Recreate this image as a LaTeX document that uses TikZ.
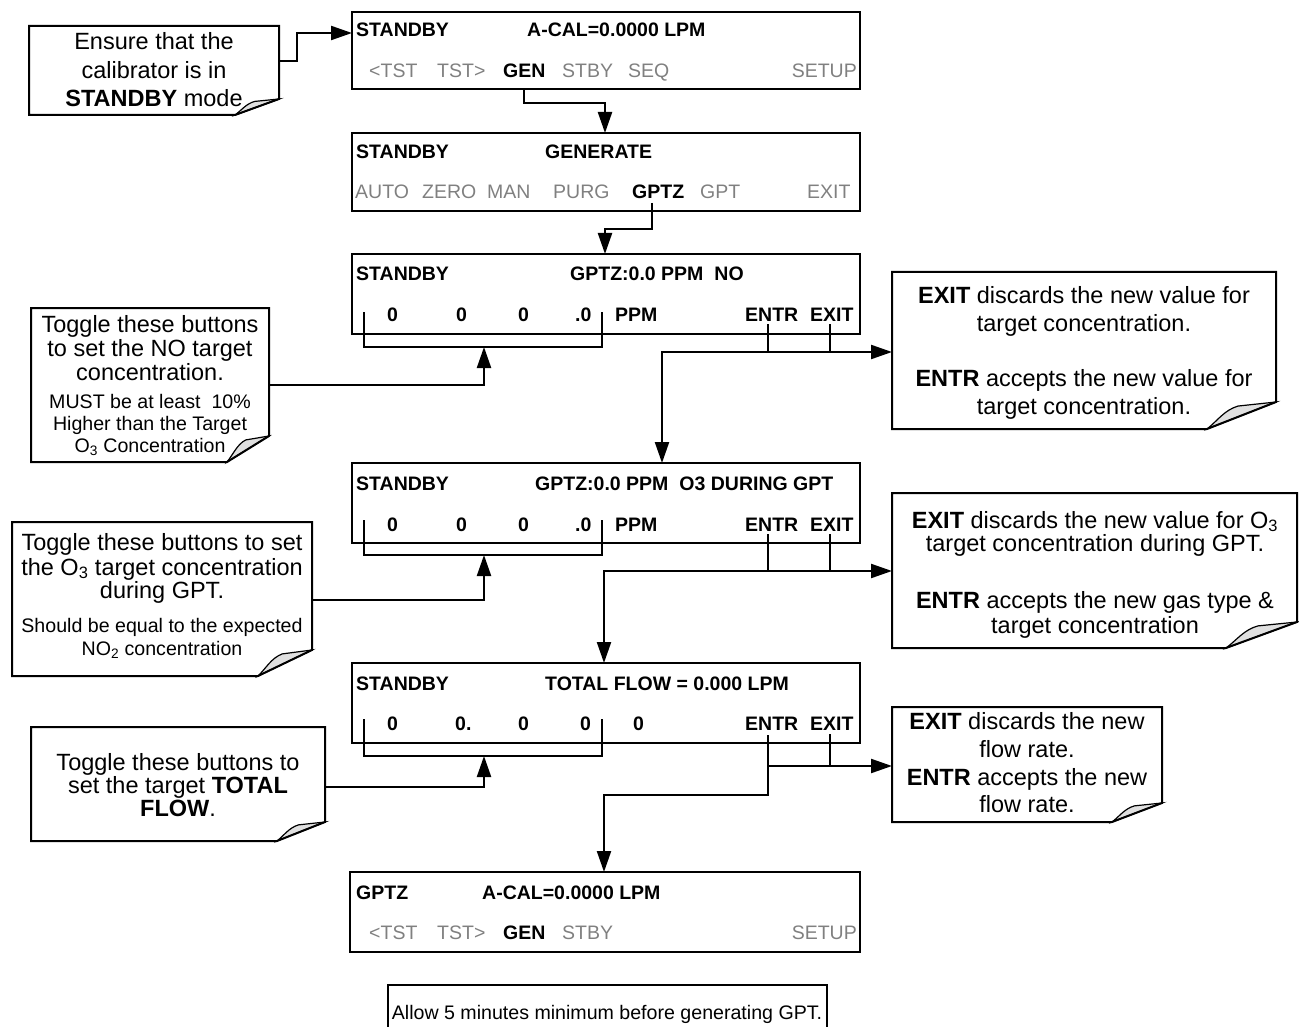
\documentclass[tikz,border=0pt]{standalone}
\usepackage{fontspec}
\setmainfont{Liberation Sans}
\usetikzlibrary{arrows.meta}
\definecolor{menugray}{RGB}{128,128,128}
\definecolor{flapgray}{RGB}{224,224,224}
\tikzset{
  display/.style={draw, line width=2.4pt, inner sep=0pt, outer sep=0pt},
  dtxt/.style={anchor=base west, inner sep=0pt, font=\fontsize{19.5}{22}\selectfont\bfseries},
  mtxt/.style={anchor=base west, inner sep=0pt, font=\fontsize{19.5}{22}\selectfont, text=menugray},
  ntxt/.style={anchor=base, inner sep=0pt, font=\fontsize{23.5}{26}\selectfont},
  stxt/.style={anchor=base, inner sep=0pt, font=\fontsize{19.6}{22}\selectfont},
  conn/.style={line width=2.2pt, line cap=rect},
  arr/.style={line width=2.2pt, -{Triangle[length=21pt,width=14pt]}},
  outline/.style={line width=2pt, line join=miter},
  flap/.style={line width=1.2pt, fill=flapgray},
}
\newcommand\fnote[7]{%
  \pgfmathsetmacro\fnW{#4-#2}\pgfmathsetmacro\fnH{#5-#3}%
  \node[inner sep=0pt, outer sep=0pt, minimum width=\fnW pt, minimum height=\fnH pt] (#1) at ({(#2+#4)/2},{(#3+#5)/2}) {};
  \filldraw[flap] (#4,{#5-#7}) -- ({#4-0.55*#6},{#5-0.85*#7}) .. controls ({#4-0.75*#6},{#5-0.7*#7}) and ({#4-0.85*#6},{#5-0.3*#7}) .. ({#4-#6},#5) -- cycle;
  \draw[outline] (#2,#3) -- (#4,#3) -- (#4,{#5-#7}) -- ({#4-#6},#5) -- (#2,#5) -- cycle;
}
\begin{document}
\begin{tikzpicture}[x=1pt,y=-1pt]
\useasboundingbox (0,0) rectangle (1299,1027);

% ---------- displays ----------
\node[display, minimum width=508pt, minimum height=77pt] (d1) at (606,50.5) {};
\node[display, minimum width=508pt, minimum height=78pt] (d2) at (606,172) {};
\node[display, minimum width=508pt, minimum height=80pt] (d3) at (606,294) {};
\node[display, minimum width=508pt, minimum height=80pt] (d4) at (606,503) {};
\node[display, minimum width=508pt, minimum height=80pt] (d5) at (606,703) {};
\node[display, minimum width=510pt, minimum height=80pt] (d6) at (605,912) {};

% D1
\node[dtxt] (d1a) at (356,37) {STANDBY};
\node[dtxt] (d1b) at (527,37) {A-CAL=0.0000 LPM};
\node[mtxt] (d1c) at (369,78) {<TST};
\node[mtxt] (d1d) at (437,78) {TST>};
\node[dtxt] (d1e) at (503,78) {GEN};
\node[mtxt] (d1f) at (562,78) {STBY};
\node[mtxt] (d1g) at (628,78) {SEQ};
\node[mtxt, anchor=base east] (d1h) at (857,78) {SETUP};
% D2
\node[dtxt] (d2a) at (356,159) {STANDBY};
\node[dtxt] (d2b) at (545,159) {GENERATE};
\node[mtxt] (d2c) at (355,199) {AUTO};
\node[mtxt] (d2d) at (422,199) {ZERO};
\node[mtxt] (d2e) at (487,199) {MAN};
\node[mtxt] (d2f) at (553,199) {PURG};
\node[dtxt] (d2g) at (632,199) {GPTZ};
\node[mtxt] (d2h) at (700,199) {GPT};
\node[mtxt] (d2i) at (807,199) {EXIT};
% D3
\node[dtxt] (d3a) at (356,280) {STANDBY};
\node[dtxt] (d3b) at (570,280) {GPTZ:0.0 PPM\hspace{11pt}NO};
\node[dtxt] (d3c) at (387,321) {0};
\node[dtxt] (d3d) at (456,321) {0};
\node[dtxt] (d3e) at (518,321) {0};
\node[dtxt] (d3f) at (575,321) {.0};
\node[dtxt] (d3g) at (615,321) {PPM};
\node[dtxt] (d3h) at (745,321) {ENTR};
\node[dtxt] (d3i) at (810,321) {EXIT};
% D4
\node[dtxt] (d4a) at (356,490) {STANDBY};
\node[dtxt] (d4b) at (535,490) {GPTZ:0.0 PPM\hspace{11pt}O3 DURING GPT};
\node[dtxt] (d4c) at (387,531) {0};
\node[dtxt] (d4d) at (456,531) {0};
\node[dtxt] (d4e) at (518,531) {0};
\node[dtxt] (d4f) at (575,531) {.0};
\node[dtxt] (d4g) at (615,531) {PPM};
\node[dtxt] (d4h) at (745,531) {ENTR};
\node[dtxt] (d4i) at (810,531) {EXIT};
% D5
\node[dtxt] (d5a) at (356,690) {STANDBY};
\node[dtxt] (d5b) at (545,690) {TOTAL FLOW = 0.000 LPM};
\node[dtxt] (d5c) at (387,730) {0};
\node[dtxt] (d5d) at (455,730) {0.};
\node[dtxt] (d5e) at (518,730) {0};
\node[dtxt] (d5f) at (580,730) {0};
\node[dtxt] (d5g) at (633,730) {0};
\node[dtxt] (d5h) at (745,730) {ENTR};
\node[dtxt] (d5i) at (810,730) {EXIT};
% D6
\node[dtxt] (d6a) at (356,899) {GPTZ};
\node[dtxt] (d6b) at (482,899) {A-CAL=0.0000 LPM};
\node[mtxt] (d6c) at (369,939) {<TST};
\node[mtxt] (d6d) at (437,939) {TST>};
\node[dtxt] (d6e) at (503,939) {GEN};
\node[mtxt] (d6f) at (562,939) {STBY};
\node[mtxt, anchor=base east] (d6g) at (857,939) {SETUP};

% ---------- notes ----------
\fnote{n1}{29}{26}{279}{115}{44}{16}
\node[ntxt] (n1a) at (154,50) {Ensure that the};
\node[ntxt] (n1b) at (154,78.5) {calibrator is in};
\node[ntxt] (n1c) at (154,107) {\textbf{STANDBY} mode};

\fnote{n2}{31}{308}{269}{462}{42}{26}
\node[ntxt] (n2a) at (150,332) {Toggle these buttons};
\node[ntxt] (n2b) at (150,356) {to set the NO target};
\node[ntxt] (n2c) at (150,380) {concentration.};
\node[stxt] (n2d) at (150,408) {MUST be at least\ \ 10\%};
\node[stxt] (n2e) at (150,430) {Higher than the Target};
\node[stxt] (n2f) at (150,452) {O\textsubscript{3} Concentration};

\fnote{n3}{892}{272}{1276}{429}{69}{27}
\node[ntxt] (n3a) at (1084,303) {\textbf{EXIT} discards the new value for};
\node[ntxt] (n3b) at (1084,331) {target concentration.};
\node[ntxt] (n3c) at (1084,386) {\textbf{ENTR} accepts the new value for};
\node[ntxt] (n3d) at (1084,414) {target concentration.};

\fnote{n4}{12}{522}{312}{676}{54}{26}
\node[ntxt] (n4a) at (162,550) {Toggle these buttons to set};
\node[ntxt] (n4b) at (162,575) {the O\textsubscript{3} target concentration};
\node[ntxt] (n4c) at (162,598) {during GPT.};
\node[stxt] (n4d) at (162,632) {Should be equal to the expected};
\node[stxt] (n4e) at (162,655) {NO\textsubscript{2} concentration};

\fnote{n5}{892}{493}{1297}{648}{71}{26}
\node[ntxt] (n5a) at (1095,528) {\textbf{EXIT} discards the new value for O\textsubscript{3}};
\node[ntxt] (n5b) at (1095,551) {target concentration during GPT.};
\node[ntxt] (n5c) at (1095,608) {\textbf{ENTR} accepts the new gas type \&};
\node[ntxt] (n5d) at (1095,633) {target concentration};

\fnote{n6}{31}{727}{325}{841}{48}{19}
\node[ntxt] (n6a) at (178,770) {Toggle these buttons to};
\node[ntxt] (n6b) at (178,793) {set the target \textbf{TOTAL}};
\node[ntxt] (n6c) at (178,816) {\textbf{FLOW}.};

\fnote{n7}{892}{707}{1162}{822}{50}{19}
\node[ntxt] (n7a) at (1027,729) {\textbf{EXIT} discards the new};
\node[ntxt] (n7b) at (1027,757) {flow rate.};
\node[ntxt] (n7c) at (1027,785) {\textbf{ENTR} accepts the new};
\node[ntxt] (n7d) at (1027,812) {flow rate.};

% bottom note (cut by the page edge)
\draw[line width=1.6pt] (388,1028) -- (388,985) -- (827,985) -- (827,1028);
\node[stxt] (n8) at (607,1019) {Allow 5 minutes minimum before generating GPT.};

% ---------- connectors ----------
\draw[arr] (n1.east |- 0,61) -- (297,61) -- (297,33) -- (d1.west |- 0,33);
\draw[arr] (d1.south -| 524,0) -- (524,103) -- (605,103) -- (d2.north -| 605,0);
\draw[arr] (652,203) -- (652,229) -- (605,229) -- (d3.north -| 605,0);

% D3
\draw[conn] (364,313) -- (364,347) -- (602,347) -- (602,313);
\draw[arr] (n2.east |- 0,385) -- (484,385) -- (484,347);
\draw[conn] (768,325) -- (768,352);
\draw[conn] (830,325) -- (830,352);
\draw[arr] (768,352) -- (662,352) -- (d4.north -| 662,0);
\draw[arr] (768,352) -- (n3.west |- 0,352);

% D4
\draw[conn] (364,521) -- (364,555) -- (602,555) -- (602,521);
\draw[arr] (n4.east |- 0,600) -- (484,600) -- (484,555);
\draw[conn] (768,535) -- (768,571);
\draw[conn] (830,535) -- (830,571);
\draw[arr] (768,571) -- (604,571) -- (d5.north -| 604,0);
\draw[arr] (768,571) -- (n5.west |- 0,571);

% D5
\draw[conn] (364,720) -- (364,756) -- (602,756) -- (602,720);
\draw[arr] (n6.east |- 0,787) -- (484,787) -- (484,756);
\draw[conn] (830,735) -- (830,766);
\draw[arr] (768,735) -- (768,795) -- (604,795) -- (d6.north -| 604,0);
\draw[arr] (768,766) -- (n7.west |- 0,766);
\end{tikzpicture}
\end{document}
